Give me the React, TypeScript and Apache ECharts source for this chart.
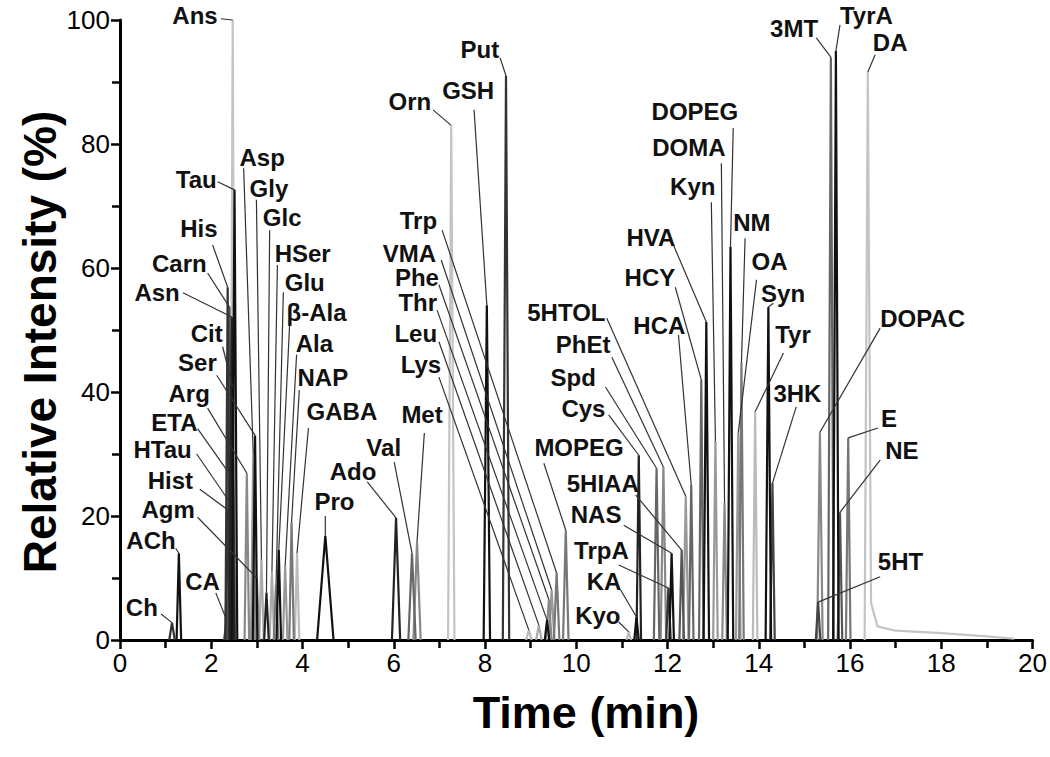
import React, { useEffect, useRef } from "react";
import * as echarts from "echarts";

// compound names, in label order
const names = ["Ch","ACh","CA","Agm","Hist","HTau","ETA","Arg","Ser","Cit","Asn","Carn","His","Tau","Ans",
  "Asp","Gly","Glc","HSer","Glu","β-Ala","Ala","NAP","GABA",
  "Pro","Ado","Val","Met","Orn","GSH","Put",
  "Trp","VMA","Phe","Thr","Leu","Lys",
  "5HTOL","PhEt","Spd","Cys","MOPEG","5HIAA","NAS","TrpA","KA","Kyo",
  "HCA","HCY","HVA","Kyn","DOMA","DOPEG",
  "NM","OA","Syn","Tyr","3HK","3MT","TyrA","DA","DOPAC","E","NE","5HT"];

// retention time (min)
const peakTimes = [1.14,1.29,2.34,3.0,2.36,2.4,2.42,2.78,2.96,2.47,2.45,2.4,2.36,2.51,2.47,
  2.92,3.1,3.21,3.33,3.42,3.48,3.62,3.76,3.88,
  4.5,6.05,6.4,6.51,7.26,8.04,8.46,
  9.57,9.46,9.4,9.36,9.18,8.96,
  12.4,11.91,11.76,11.37,9.77,12.31,12.09,12.02,11.32,11.15,
  12.52,12.74,12.85,13.05,13.25,13.38,
  13.62,13.55,14.21,13.92,14.3,15.58,15.69,16.39,15.34,15.96,15.78,15.3];

// relative intensity (%)
const peakHeights = [2.8,14,3.2,10,21,22.3,26.6,26.9,33,40.8,52.1,53.7,56.9,72.6,100,
  30,13,7.6,11,9,14.5,12,19,14,
  16.8,19.7,14,15.8,83,54,91,
  10.8,8.1,6.5,3.2,2.4,1.6,
  23.2,27.9,27.7,29.8,17.7,14.5,14,8.4,3.7,1.3,
  25,42,51.3,32,22,63.4,
  44.7,33.4,53.7,36.8,25.3,94,95,91.6,33.5,32.6,20.6,6.1];

// peak half-width at base (min)
const peakHalfWidths = [0.06,0.05,0.06,0.05,0.05,0.05,0.05,0.05,0.05,0.05,0.05,0.05,0.05,0.06,0.05,
  0.05,0.05,0.05,0.05,0.05,0.05,0.05,0.05,0.05,
  0.18,0.09,0.08,0.08,0.07,0.07,0.07,
  0.06,0.06,0.06,0.05,0.06,0.06,
  0.06,0.06,0.06,0.05,0.06,0.05,0.05,0.05,0.05,0.05,
  0.05,0.05,0.06,0.05,0.05,0.06,
  0.05,0.05,0.06,0.05,0.05,0.06,0.06,0.07,0.06,0.05,0.05,0.05];

const peakShades = ["#333","#111","#555","#888","#333","#666","#777","#888","#111","#444","#222","#555","#333","#111","#c4c4c4",
  "#999","#aaa","#222","#aaa","#777","#111","#999","#777","#bbb",
  "#111","#222","#666","#888","#c4c4c4","#111","#333",
  "#777","#999","#888","#111","#aaa","#bbb",
  "#999","#888","#666","#222","#777","#555","#111","#333","#111","#bbb",
  "#666","#666","#111","#999","#888","#111",
  "#777","#999","#111","#bbb","#444","#666","#111","#c4c4c4","#888","#777","#555","#444"];

// DA tailing after its peak (time, intensity)
const daTail = [[16.46,6],[16.6,2.2],[17.0,1.5],[18.0,1.1],[19.0,0.6],[19.6,0.2]];

// label anchors (time, intensity) and text alignment
const labelAnchors = [[0.83,5.3],[1.22,16.0],[2.19,9.4],[1.64,21.0],[1.6,25.8],[1.57,30.7],[1.7,35.1],[1.97,39.8],[2.12,44.7],[2.25,49.5],[1.31,56.1],[1.9,60.8],[2.14,66.3],[2.12,74.2],[2.14,100.8],
  [2.62,77.9],[2.84,72.9],[3.13,68.2],[3.39,62.4],[3.61,57.7],[3.65,52.9],[3.85,47.9],[3.89,42.4],[4.09,36.8],
  [4.7,22.3],[5.62,27.1],[6.16,31.1],[6.62,36.3],[6.82,86.8],[7.63,88.7],[8.31,95.2],
  [6.95,67.7],[6.93,62.4],[6.99,58.4],[6.95,54.4],[6.95,49.5],[7.04,44.4],
  [10.64,52.9],[10.75,47.6],[10.43,42.4],[10.64,37.4],[11.04,31.1],[11.37,25.3],[10.99,20.2],[11.15,14.5],[10.99,9.4],[10.97,4.0],
  [12.39,50.8],[12.17,58.5],[12.17,65.0],[13.05,73.1],[13.27,79.5],[13.55,85.2],
  [13.44,67.4],[13.84,61.0],[14.05,55.9],[14.36,49.2],[14.32,39.8],[15.3,98.7],[15.78,100.7],[16.5,96.3],[16.66,51.9],[16.68,35.8],[16.77,30.6],[16.61,12.6]];

const labelAligns = ["right","right","right","right","right","right","right","right","right","right","right","right","right","right","right",
  "left","left","left","left","left","left","left","left","left",
  "center","right","right","center","right","center","right",
  "right","right","right","right","right","right",
  "right","right","right","right","right","right","right","right","right","right",
  "right","right","right","right","right","right",
  "left","left","left","left","left","right","left","left","left","left","left","left"];

// leader line start points (time, intensity); lines end at the peak apex
const leaderStarts = [[0.9,4.2],[1.22,14.8],[2.1,7.6],[1.7,19.8],[1.75,24.3],[1.68,30.0],[1.7,34.1],[1.92,37.4],[2.12,42.7],[2.25,47.3],[1.38,56.0],[1.92,59.2],[2.03,63.7],[2.14,73.9],[2.21,100.2],
  [2.71,76.1],[2.99,71.0],[3.28,66.1],[3.45,60.5],[3.58,56.1],[3.72,51.3],[3.87,46.0],[3.93,40.3],[4.13,34.2],
  [4.5,20.0],[5.42,25.5],[6.01,28.7],[6.67,33.4],[6.86,85.5],[7.76,85.5],[8.33,93.9],
  [7.06,66.1],[7.04,61.3],[6.99,57.3],[6.95,53.2],[6.99,48.1],[6.99,42.4],
  [10.67,51.9],[10.78,45.6],[10.64,40.8],[10.71,36.3],[9.29,28.5],[11.3,23.4],[11.04,18.5],[10.93,12.1],[10.97,8.1],[10.93,2.9],
  [12.24,49.2],[12.17,56.9],[12.13,63.7],[12.96,70.6],[13.18,76.9],[13.44,82.6],
  [13.7,64.8],[13.95,58.1],[14.32,54.3],[14.54,46.3],[14.82,37.6],[15.26,97.1],[15.78,99.2],[16.55,94.4],[16.66,50.3],[16.61,34.2],[16.66,29.0],[16.66,10.2]];

const xTicks = { min: 0, max: 20, interval: 2 };
const yTicks = { min: 0, max: 100, interval: 20 };

const FONT = '"Liberation Sans", Arial, sans-serif';

function lum(hex: string) {
  return parseInt(hex.slice(1, 2), 16);
}

export default function App() {
  const ref = useRef<HTMLDivElement>(null);
  useEffect(() => {
    if (!ref.current) return;
    const chart = echarts.init(ref.current, undefined, { renderer: "svg" });
    const order = names.map((_, i) => i).sort((a, b) => lum(peakShades[b]) - lum(peakShades[a]));
    const peakSeries = order.map((i) => {
      const t = peakTimes[i], h = peakHeights[i], w = peakHalfWidths[i];
      const data: number[][] = [[t - w, 0], [t, h]];
      if (names[i] === "DA") daTail.forEach((p) => data.push(p));
      else data.push([t + w, 0]);
      return {
        type: "line",
        name: names[i],
        data,
        symbol: "none",
        silent: true,
        lineStyle: { color: peakShades[i], width: 2.2 },
        z: 2,
      };
    });
    const labelData = names.map((_, i) => [
      labelAnchors[i][0], labelAnchors[i][1],
      leaderStarts[i][0], leaderStarts[i][1],
      peakTimes[i], peakHeights[i], i,
    ]);
    const labelSeries = {
      type: "custom",
      silent: true,
      clip: false,
      z: 5,
      data: labelData,
      encode: { x: 0, y: 1 },
      renderItem: (params: any, api: any) => {
        const i = api.value(6);
        const a = api.coord([api.value(0), api.value(1)]);
        const s = api.coord([api.value(2), api.value(3)]);
        const e = api.coord([api.value(4), api.value(5)]);
        return {
          type: "group",
          children: [
            { type: "polyline", shape: { points: [s, e] }, style: { stroke: "#333", lineWidth: 1.2, fill: null } },
            {
              type: "text",
              x: a[0],
              y: a[1],
              style: {
                text: names[i],
                align: labelAligns[i],
                verticalAlign: "middle",
                fontFamily: FONT,
                fontWeight: "bold",
                fontSize: 24,
                fill: "#111",
              },
            },
          ],
        };
      },
    };
    chart.setOption({
      animation: false,
      backgroundColor: "#fff",
      grid: { left: 120, right: 15, top: 20, bottom: 117 },
      xAxis: {
        type: "value",
        min: xTicks.min,
        max: xTicks.max,
        interval: xTicks.interval,
        axisLine: { lineStyle: { color: "#000", width: 3 } },
        axisTick: { length: 9, lineStyle: { color: "#000", width: 2.5 } },
        minorTick: { show: true, splitNumber: 2, length: 8, lineStyle: { color: "#000", width: 2.5 } },
        splitLine: { show: false },
        axisLabel: { color: "#000", fontSize: 26, fontFamily: FONT, margin: 10 },
      },
      yAxis: {
        type: "value",
        min: yTicks.min,
        max: yTicks.max,
        interval: yTicks.interval,
        axisLine: { show: true, lineStyle: { color: "#000", width: 3 } },
        axisTick: { show: true, length: 9, lineStyle: { color: "#000", width: 2.5 } },
        minorTick: { show: true, splitNumber: 2, length: 8, lineStyle: { color: "#000", width: 2.5 } },
        splitLine: { show: false },
        axisLabel: { color: "#000", fontSize: 26, fontFamily: FONT, margin: 10 },
      },
      graphic: [
        {
          type: "text",
          x: 586,
          y: 712,
          style: { text: "Time (min)", align: "center", verticalAlign: "middle", fontFamily: FONT, fontWeight: "bold", fontSize: 45, fill: "#000" },
        },
        {
          type: "text",
          x: 40,
          y: 342,
          rotation: Math.PI / 2,
          style: { text: "Relative Intensity (%)", align: "center", verticalAlign: "middle", fontFamily: FONT, fontWeight: "bold", fontSize: 46, fill: "#000" },
        },
      ],
      series: [...peakSeries, labelSeries],
    });
    return () => chart.dispose();
  }, []);
  return <div ref={ref} style={{ position: "fixed", left: 0, top: 0, width: 1050, height: 757 }} />;
}
